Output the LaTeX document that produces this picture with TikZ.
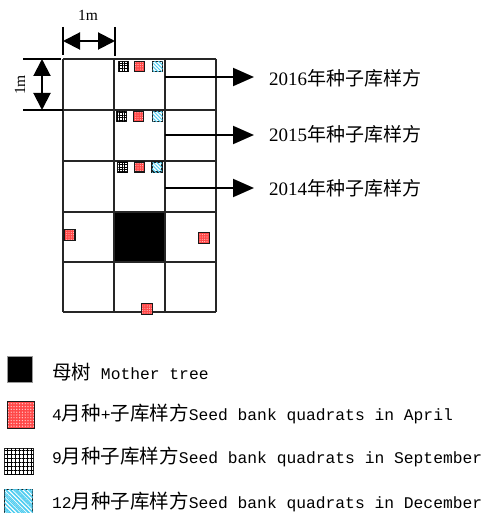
\documentclass[tikz,border=0pt]{standalone}
\usepackage{fontspec}
\setmainfont{Liberation Serif}
\newfontfamily\cjk{Noto Sans CJK SC}
\newfontfamily\mono{Liberation Mono}
\usetikzlibrary{arrows.meta,patterns.meta}
\definecolor{qred}{RGB}{255,72,72}
\definecolor{qcyan}{RGB}{80,205,240}
\tikzset{
  gridline/.style={line width=1.2pt, draw=black!85},
  redq/.style={draw=black!90, line width=1.6pt, inner sep=0pt, preaction={fill=qred},
    pattern={Dots[radius=0.55pt,distance=2.3pt]}, pattern color=white!80!red},
  gridq/.style={draw=black!90, line width=1.6pt, inner sep=0pt, fill=white,
    postaction={pattern={Hatch[angle=0,distance=2.6pt,line width=0.7pt]}, pattern color=black}},
  gridqbig/.style={draw=black!85, line width=1.6pt, inner sep=0pt, fill=white,
    postaction={pattern={Hatch[angle=0,distance=3.9pt,line width=0.9pt]}, pattern color=black}},
  cyanq/.style={draw=black!90, line width=1.6pt, inner sep=0pt, fill=white,
    postaction={pattern={Lines[angle=-45,distance=2.6pt,line width=1pt]}, pattern color=qcyan}},
  bigarrow/.style={line width=2pt, -{Triangle[length=21pt,width=18pt]}},
  dimarrow/.style={line width=2pt, {Triangle[length=17pt,width=17pt]}-{Triangle[length=17pt,width=17pt]}},
  tick/.style={line width=1.8pt},
  yearlbl/.style={anchor=west, inner sep=0pt, font=\fontsize{19}{22}\selectfont},
  leglbl/.style={anchor=west, inner sep=0pt, font=\fontsize{19.5}{22}\selectfont},
}
\newcommand{\lm}[1]{{\mono\fontsize{16.3}{20}\selectfont #1}}
\begin{document}
\begin{tikzpicture}[x=1pt,y=-1pt]
\useasboundingbox (0,0) rectangle (496,513);
% mother tree cell
\fill[black] (114,212) rectangle (165,262);
% grid
\foreach \yy in {59,110,161,212,262,312} \draw[gridline] (63,\yy) -- (216,\yy);
\foreach \xx in {63,114,165,216} \draw[gridline] (\xx,59) -- (\xx,312);
% dimension marks
\draw[tick] (63,27) -- (63,55);
\draw[tick] (115,27) -- (115,56);
\coordinate (hl) at (63,41);
\coordinate (hr) at (115,41);
\draw[dimarrow] (hl) -- (hr);
\node[font=\fontsize{15.5}{18}\selectfont] (m1) at (88,15) {1m};
\draw[tick] (23,59) -- (61,59);
\draw[tick] (23,110) -- (63,110);
\coordinate (vt) at (42,59);
\coordinate (vb) at (42,110);
\draw[dimarrow] (vt) -- (vb);
\node[font=\fontsize{15.5}{18}\selectfont, rotate=90] (m2) at (20,85) {1m};
% quadrats in rows
\node[gridq, minimum size=10pt] (g1) at (123.5,66.5) {};
\node[redq, minimum size=10pt] (r1) at (139.5,66.5) {};
\node[cyanq, minimum size=10pt] (c1) at (157.5,66.5) {};
\node[gridq, minimum size=10pt] (g2) at (121.5,116.5) {};
\node[redq, minimum size=10pt] (r2) at (138.5,116.5) {};
\node[cyanq, minimum size=10pt] (c2) at (157.5,116.5) {};
\node[gridq, minimum size=10pt] (g3) at (122.5,167) {};
\node[redq, minimum size=10pt] (r3) at (139.5,167) {};
\node[cyanq, minimum size=10pt] (c3) at (157,167) {};
\node[redq, minimum size=11pt] (r4) at (69.5,235) {};
\node[redq, minimum size=11pt] (r5) at (204,238) {};
\node[redq, minimum size=11pt] (r6) at (147,309) {};
% year labels
\node[yearlbl] (l1) at (269,78) {2016{\cjk 年种子库样方}};
\node[yearlbl] (l2) at (269,134) {2015{\cjk 年种子库样方}};
\node[yearlbl] (l3) at (269,188) {2014{\cjk 年种子库样方}};
\coordinate (s1) at (165,77);
\coordinate (s2) at (165,135);
\coordinate (s3) at (165,188);
\draw[bigarrow] (s1) -- ([xshift=-15pt]l1.west |- s1);
\draw[bigarrow] (s2) -- ([xshift=-15pt]l2.west |- s2);
\draw[bigarrow] (s3) -- ([xshift=-15pt]l3.west |- s3);
% legend
\node[draw=black!40, line width=1pt, fill=black, minimum width=25pt, minimum height=26pt, inner sep=0pt] (k1) at (20,369.5) {};
\node[redq, line width=1.8pt, minimum width=27pt, minimum height=27pt,
  pattern={Dots[radius=0.7pt,distance=2.8pt]}] (k2) at (21,415) {};
\node[gridqbig, minimum width=29pt, minimum height=26pt] (k3) at (19,461.5) {};
\node[cyanq, line width=1.8pt, minimum width=28pt, minimum height=26pt,
  postaction={pattern={Lines[angle=-45,distance=3.4pt,line width=1.3pt]}, pattern color=qcyan}] (k4) at (18.5,502.5) {};
\node[leglbl] (t1) at (52,372) {{\cjk 母树}\lm{ Mother tree}};
\node[leglbl] (t2) at (52,414) {\lm{4}{\cjk 月种}\lm{+}{\cjk 子库样方}\lm{Seed bank quadrats in April}};
\node[leglbl] (t3) at (52,457) {\lm{9}{\cjk 月种子库样方}\lm{Seed bank quadrats in September}};
\node[leglbl] (t4) at (52,502) {\lm{12}{\cjk 月种子库样方}\lm{Seed bank quadrats in December}};
\end{tikzpicture}
\end{document}
